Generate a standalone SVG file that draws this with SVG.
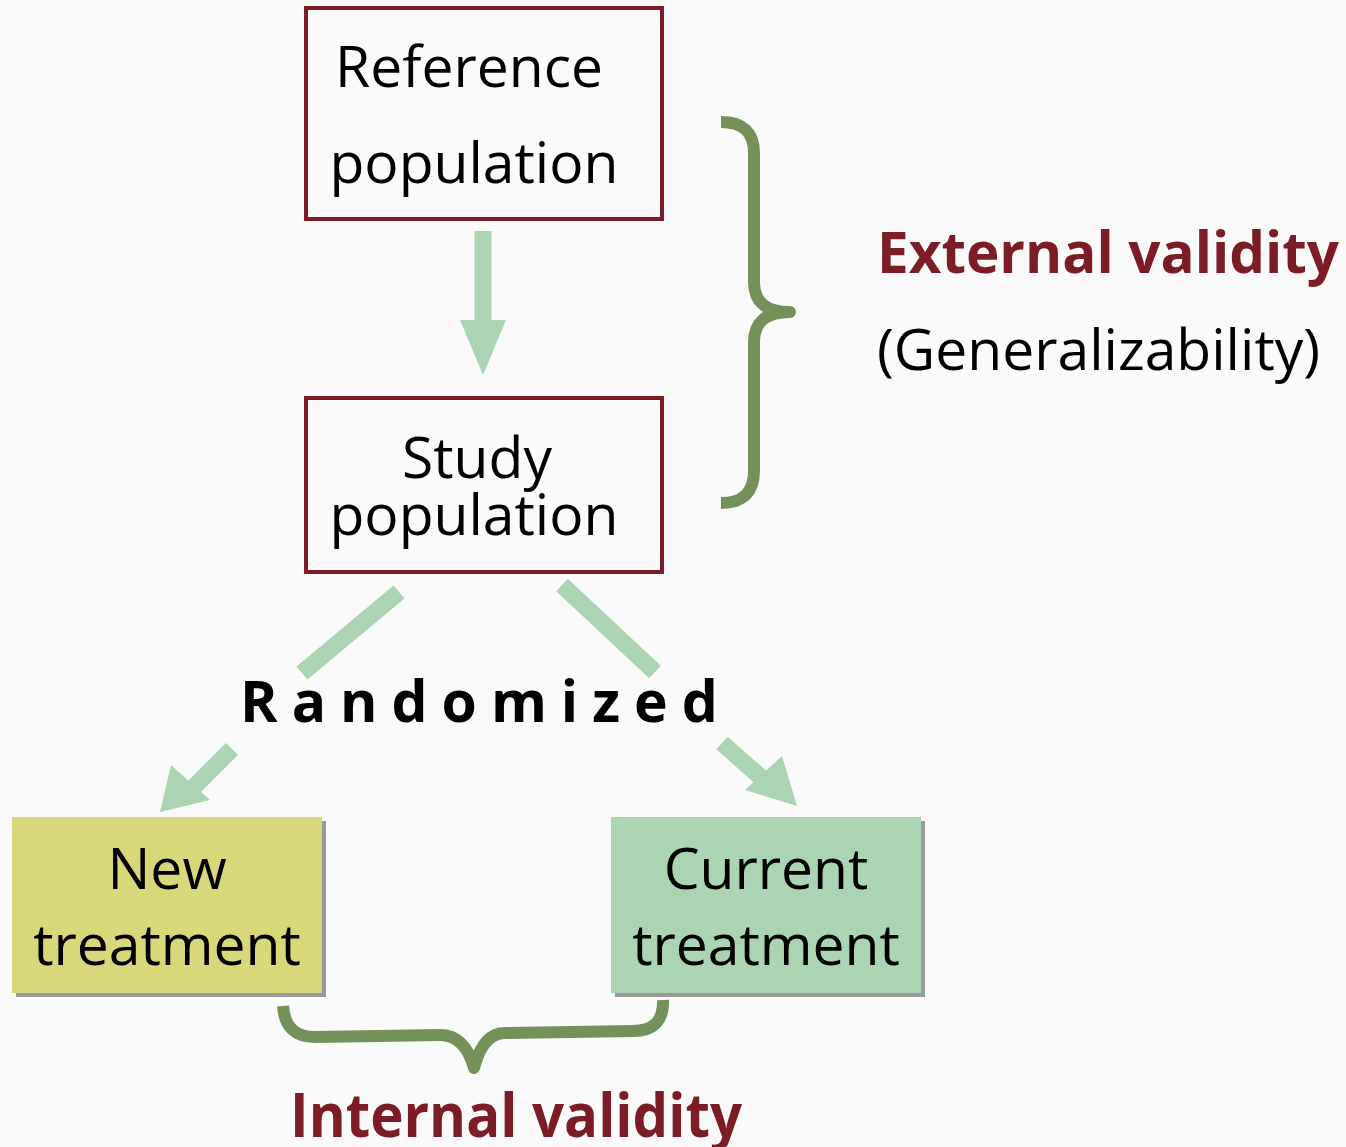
<svg xmlns="http://www.w3.org/2000/svg" width="1346" height="1147" viewBox="0 0 1346 1147">
  <defs>
    <style>
      .bg { fill: #fafafa; }
      .pop { fill: none; stroke: #7b1c27; stroke-width: 4; }
      .lbl { font-family: "Open Sans", "Noto Sans", sans-serif; font-size: 57px; fill: #000; text-anchor: middle; }
      .red { font-family: "Open Sans", "Noto Sans", sans-serif; font-weight: bold; fill: #7b1c27; }
      .flow { stroke: #abd4b2; stroke-width: 17; fill: none; }
      .head { fill: #abd4b2; }
      .brace { fill: none; stroke: #739159; stroke-width: 12; stroke-linecap: butt; stroke-linejoin: round; }
      .shadow { fill: #9a9a9a; }
    </style>
  </defs>

  <rect class="bg" x="0" y="0" width="1346" height="1147"/>

  <!-- connectors: arrows, splits and braces -->
  <g id="connectors">
    <!-- reference -> study -->
    <line class="flow" x1="483" y1="231" x2="483" y2="322"/>
    <polygon class="head" points="460,320 506,320 483,375"/>

    <!-- study population splitting toward "Randomized" -->
    <line class="flow" x1="399" y1="592" x2="302" y2="673"/>
    <line class="flow" x1="562" y1="585" x2="655" y2="672"/>

    <!-- randomized -> new treatment -->
    <line class="flow" x1="232" y1="749" x2="194" y2="787"/>
    <polygon class="head" points="171,765 210,800 160,812"/>

    <!-- randomized -> current treatment -->
    <line class="flow" x1="722" y1="743" x2="766" y2="782"/>
    <polygon class="head" points="782,756 797,806 745,790"/>

    <!-- right brace: external validity -->
    <path class="brace" d="M721,122 Q754,122 754,153 L754,282 Q754,312 790,312 Q754,312 754,342 L754,471 Q754,503 721,503"/>

    <!-- bottom brace: internal validity -->
    <path class="brace" d="M283,1006 Q285,1037 315,1037 L440,1035 Q465,1035 474,1068 Q483,1033 505,1033 L633,1031 Q664,1031 663,1000"/>
  </g>

  <!-- nodes -->
  <g id="reference-population">
    <rect class="pop" x="306" y="8" width="356" height="211"/>
    <text class="lbl" x="469" y="87">Reference</text>
    <text class="lbl" x="474" y="183">population</text>
  </g>

  <g id="study-population">
    <rect class="pop" x="306" y="398" width="356" height="174"/>
    <text class="lbl" x="477" y="478">Study</text>
    <text class="lbl" x="474" y="535">population</text>
  </g>

  <g id="randomized">
    <text x="240" y="722" font-family="'Open Sans', 'Noto Sans', sans-serif" font-weight="bold" font-size="57" letter-spacing="14" fill="#000">Randomized</text>
  </g>

  <g id="new-treatment">
    <rect class="shadow" x="16" y="821" width="310" height="176"/>
    <rect x="12" y="817" width="310" height="176" fill="#d8d779"/>
    <text class="lbl" x="167" y="889">New</text>
    <text class="lbl" x="167" y="965">treatment</text>
  </g>

  <g id="current-treatment">
    <rect class="shadow" x="615" y="821" width="310" height="176"/>
    <rect x="611" y="817" width="310" height="176" fill="#abd4b2"/>
    <text class="lbl" x="766" y="889">Current</text>
    <text class="lbl" x="766" y="965">treatment</text>
  </g>

  <g id="external-validity">
    <text class="red" x="877" y="273" font-size="58" textLength="462" lengthAdjust="spacingAndGlyphs">External validity</text>
    <text x="877" y="370" font-family="'Open Sans', 'Noto Sans', sans-serif" font-size="57" fill="#000">(Generalizability)</text>
  </g>

  <g id="internal-validity">
    <text class="red" x="290" y="1137" font-size="60" textLength="452" lengthAdjust="spacingAndGlyphs">Internal validity</text>
  </g>
</svg>
